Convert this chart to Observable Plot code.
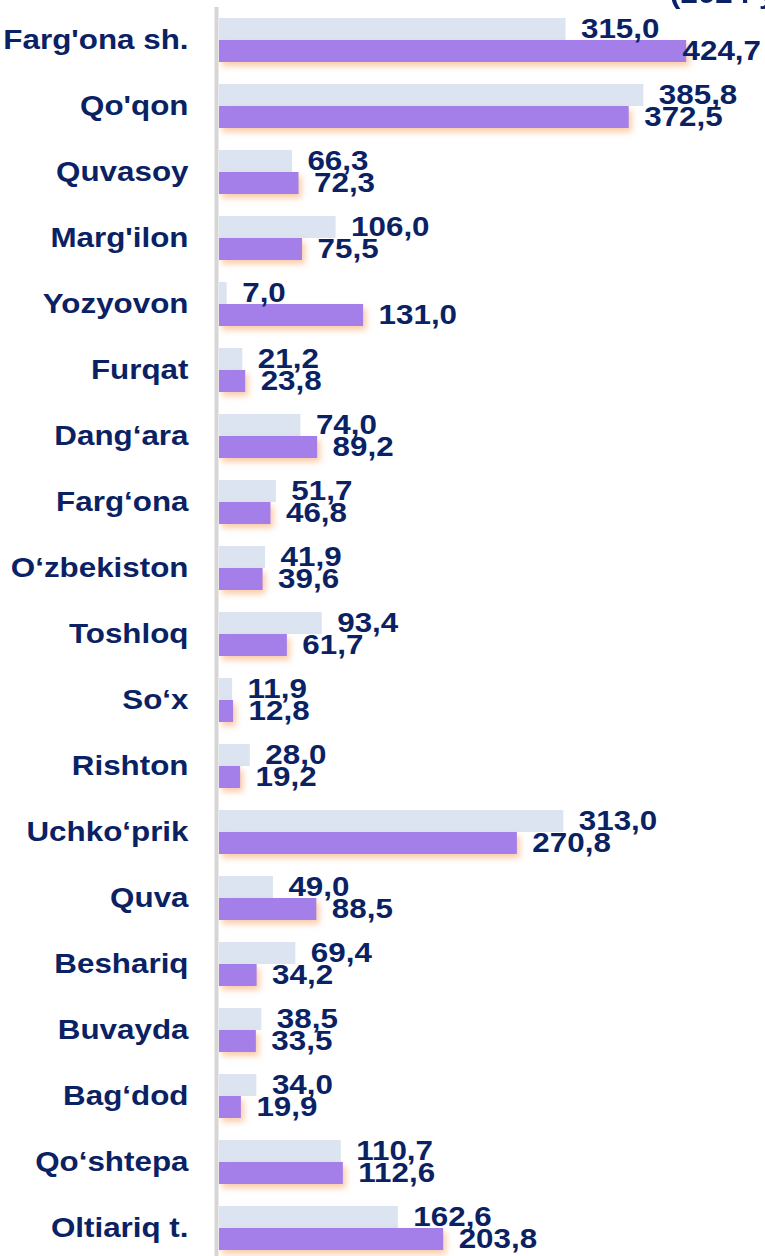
<!DOCTYPE html>
<html><head><meta charset="utf-8">
<script src="https://cdn.jsdelivr.net/npm/d3@7"></script>
<script src="https://cdn.jsdelivr.net/npm/@observablehq/plot@0.6"></script>
<style>
html,body{margin:0;padding:0;background:#fff;overflow:hidden}
#wrap{position:relative;width:765px;height:1256px;overflow:hidden}
#note{position:absolute;left:670px;top:-22px;line-height:28px;font:bold 28px "Liberation Sans",Arial,sans-serif;color:#0a2263;white-space:nowrap;transform:scaleX(1.12);transform-origin:left center}
</style></head><body><div id="wrap"><div id="chart"></div><div id="note">(2024 yil)</div></div>
<script>
const categories = ["Farg'ona sh.","Qo'qon","Quvasoy","Marg'ilon","Yozyovon","Furqat","Dang‘ara","Farg‘ona","O‘zbekiston","Toshloq","So‘x","Rishton","Uchko‘prik","Quva","Beshariq","Buvayda","Bag‘dod","Qo‘shtepa","Oltiariq t."];
const seriesA = [315.0,385.8,66.3,106.0,7.0,21.2,74.0,51.7,41.9,93.4,11.9,28.0,313.0,49.0,69.4,38.5,34.0,110.7,162.6];
const seriesB = [424.7,372.5,72.3,75.5,131.0,23.8,89.2,46.8,39.6,61.7,12.8,19.2,270.8,88.5,34.2,33.5,19.9,112.6,203.8];

const fmt = v => v.toFixed(1).replace(".", ",");
const rowsA = categories.map((c, i) => ({cat: c, value: seriesA[i], label: fmt(seriesA[i])}));
const rowsB = categories.map((c, i) => ({cat: c, value: seriesB[i], label: fmt(seriesB[i])}));

const NAVY = "#0a2263", LIGHT = "#dbe4f0", PURPLE = "#a47ee9";
const FONT = "'Liberation Sans', Arial, sans-serif";

const chart = Plot.plot({
  width: 765,
  height: 1256,
  marginLeft: 219,
  marginRight: 0,
  marginTop: 7,
  marginBottom: 0,
  style: {fontFamily: FONT, background: "#fff", overflow: "visible"},
  x: {domain: [0, 496.4], axis: null},
  y: {domain: categories, range: [6, 1261], paddingInner: 1/3, paddingOuter: 1/6, label: null},
  marks: [
    Plot.axisY({tickSize: 0, tickPadding: 31, fontSize: 28, fontWeight: "bold", fill: NAVY, label: null}),
    Plot.barX(rowsA, {y: "cat", x: "value", fill: LIGHT, insetBottom: 22}),
    Plot.barX(rowsB, {y: "cat", x: "value", fill: PURPLE, insetTop: 22}),
    Plot.ruleX([0], {stroke: "#d6d6d6", strokeWidth: 4, dx: -3}),
    Plot.text(rowsA, {y: "cat", x: "value", text: "label", dx: 15, dy: -11, textAnchor: "start", fontSize: 28, fontWeight: "bold", fill: NAVY}),
    Plot.text(rowsB, {y: "cat", x: "value", text: "label", dx: 15, dy: 11, textAnchor: "start", fontSize: 28, fontWeight: "bold", fill: NAVY})
  ]
});
document.getElementById("chart").appendChild(chart);

// horizontally widen text glyphs to match the reference's proportions
chart.querySelectorAll("text").forEach(t => {
  const tr = t.getAttribute("transform");
  if (tr) t.setAttribute("transform", tr + " scale(1.12,1)");
});
// keep value labels inside the right edge
chart.querySelectorAll("text").forEach(t => {
  const r = t.getBoundingClientRect();
  const over = r.right - 761;
  if (over > 0) {
    t.setAttribute("transform", `translate(${-over},0) ` + t.getAttribute("transform"));
  }
});
// soft warm shadow under the purple bars
chart.querySelectorAll(`g[fill="${PURPLE}"]`).forEach(g => {
  g.style.filter = "drop-shadow(3px 4px 3px rgba(248,160,95,0.55))";
});
</script>
</body></html>
